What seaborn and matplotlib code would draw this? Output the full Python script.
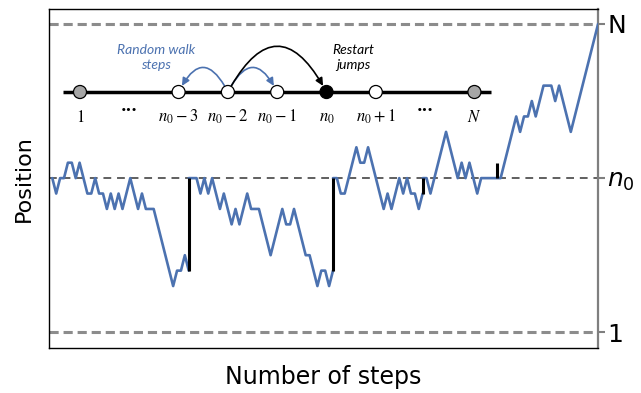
import matplotlib
matplotlib.use("Agg")
import matplotlib.pyplot as plt
from matplotlib.patches import FancyArrowPatch
import numpy as np
import pandas as pd
import seaborn as sns

# ---------------- data ----------------
N_POS = 21          # top boundary "N"
N0 = 11             # restart position n0
LOW = 1             # bottom boundary "1"

# random-walk episodes (position relative to n0), each starting at a restart
episode_start_steps = [0, 35, 72, 95]
episode1 = [0, -1, 0, 0, 1, 1, 0, 1, 0, -1, -1, 0, -1, -1, -2, -1, -2, -1, -2, -1,
            0, -1, -2, -1, -2, -2, -2, -3, -4, -5, -6, -7, -6, -6, -5, -6]
episode2 = [0, 0, 0, -1, 0, -1, 0, -1, -2, -1, -2, -3, -2, -3, -2, -1, -2, -2, -2, -3,
            -4, -5, -4, -3, -2, -3, -3, -2, -3, -4, -5, -5, -6, -7, -6, -6, -7, -6]
episode3 = [0, 0, -1, -1, 0, 1, 2, 1, 1, 2, 1, 0, -1, -2, -1, -2, -1, 0, -1, 0,
            -1, -1, -2, -1]
episode4 = [0, 0, -1, 0, 1, 2, 3, 2, 1, 0, 1, 0, 1, 0, -1, 0, 0, 0, 0, 0,
            0, 1, 2, 3, 4, 3, 4, 4, 5, 4, 5, 6, 6, 6, 5, 6, 5, 4, 3, 4,
            5, 6, 7, 8, 9, 10]
episodes = [episode1, episode2, episode3, episode4]

# restart jumps: step and relative position jumped from (back to n0)
restart_steps = [35, 72, 95, 114]
restart_from = [-6, -6, -1, 1]

# right-hand tick labels
tick_values = [LOW, N0, N_POS]
tick_labels = ["1", r"$n_0$", "N"]

# schematic inset (number line of states)
inset_labels = ["$1$", None, "$n_0-3$", "$n_0-2$", "$n_0-1$", "$n_0$", "$n_0+1$", None, "$N$"]
inset_kinds = ["boundary", "gap", "visited", "visited", "visited", "start", "visited", "gap", "boundary"]
kind_colors = {"boundary": "#a6a6a6", "visited": "white", "start": "black"}
walk_from, walk_to = 3, [2, 4]     # random-walk step arrows (n0-2 -> n0-3, n0-1)
jump_from, jump_to = 3, 5          # restart jump arrow (n0-2 -> n0)

# ---------------- build frame ----------------
rows = []
for e, (s0, ep) in enumerate(zip(episode_start_steps, episodes)):
    for k, v in enumerate(ep):
        rows.append({"step": s0 + k, "position": N0 + v, "episode": e})
df = pd.DataFrame(rows)

BLUE = "#4C72B0"

sns.set_theme(style="white")
plt.rcParams["font.family"] = ["DejaVu Sans"]
plt.rcParams["mathtext.fontset"] = "dejavusans"
plt.rcParams["text.color"] = "black"
plt.rcParams["axes.labelcolor"] = "black"

W, H = 641, 393
fig = plt.figure(figsize=(W / 100, H / 100), dpi=100)
L, R, T, B = 49.3, 597.7, 9.3, 348.3
ax = fig.add_axes([L / W, (H - B) / H, (R - L) / W, (B - T) / H])

# boundary and restart dashed lines
for lev in [LOW, N_POS]:
    ax.axhline(lev, color="#8c8c8c", lw=2.2, dashes=(3.0, 1.6), zorder=1)
ax.axhline(N0, color="#5f5f5f", lw=1.4, dashes=(4.0, 3.0), zorder=1)

sns.lineplot(data=df, x="step", y="position", units="episode", estimator=None,
             sort=False, color=BLUE, lw=1.9, ax=ax, zorder=3, legend=False)

ax.vlines(restart_steps, [N0 + r for r in restart_from], N0, color="black",
          lw=2.2, zorder=4)

ax.set_xlim(-0.77, 139.9)
ax.set_ylim(-0.038, 21.95)
ax.set_xticks([])
ax.yaxis.tick_right()
ax.set_yticks(tick_values)
ax.set_yticklabels(tick_labels)
ax.tick_params(axis="y", which="both", right=True, left=False, length=5, width=1.5,
               color="#7f7f7f", labelsize=18, pad=2, labelcolor="black")
for side in ["left", "top", "bottom"]:
    ax.spines[side].set_color("black")
    ax.spines[side].set_linewidth(1.0)
ax.spines["right"].set_color("#7f7f7f")
ax.spines["right"].set_linewidth(1.6)

ax.set_xlabel("Number of steps", fontsize=17, labelpad=12)
ax.set_ylabel("Position", fontsize=16, labelpad=11)
ax.yaxis.set_label_position("left")

# ---------------- inset schematic ----------------
IL, IW = 50.4, 453.6
IB, IH = 130, 95
ins = fig.add_axes([IL / W, (H - IB) / H, IW / W, IH / H])
ins.set_xlim(-0.6, 8.6)
ins.set_ylim(-0.4, 0.6)
ins.axis("off")

idx = np.arange(len(inset_kinds))
ins.plot([idx[0] - 0.34, idx[-1] + 0.34], [0, 0], color="black", lw=2.5, zorder=1,
         solid_capstyle="butt")
node_idx = [i for i, k in zip(idx, inset_kinds) if k != "gap"]
node_col = [kind_colors[k] for k in inset_kinds if k != "gap"]
ins.scatter(node_idx, [0] * len(node_idx), s=88, c=node_col, edgecolors="black",
            linewidths=0.9, zorder=3)
for i, (lab, kind) in enumerate(zip(inset_labels, inset_kinds)):
    if kind == "gap":
        ins.text(i, -0.19, "•••", ha="center", va="center", fontsize=6.5,
                 fontweight="bold", color="black")
    else:
        ins.text(i, -0.265, lab, ha="center", va="center", fontsize=12,
                 math_fontfamily="stix", color="black")

for tgt in walk_to:
    rad = 0.98 if tgt < walk_from else -0.98
    ins.add_patch(FancyArrowPatch((walk_from, 0), (tgt, 0),
                                  connectionstyle=f"arc3,rad={rad}",
                                  arrowstyle="-|>,head_length=0.45,head_width=0.22",
                                  mutation_scale=10, color=BLUE, lw=1.2,
                                  shrinkA=5, shrinkB=5, zorder=2))
ins.add_patch(FancyArrowPatch((jump_from, 0), (jump_to, 0),
                              connectionstyle="arc3,rad=-0.92",
                              arrowstyle="-|>,head_length=0.45,head_width=0.22",
                              mutation_scale=10, color="black", lw=1.2,
                              shrinkA=5, shrinkB=5, zorder=2))

ins.text(walk_to[0] - 0.45, 0.363, "Random walk\nsteps", ha="center",
         va="center", fontsize=10, style="italic", color=BLUE, family="Lato",
         linespacing=1.3)
ins.text(jump_to + 0.54, 0.363, "Restart\njumps", ha="center", va="center",
         fontsize=10, style="italic", color="black", family="Lato", linespacing=1.3)

fig.savefig("out.png", dpi=100)
